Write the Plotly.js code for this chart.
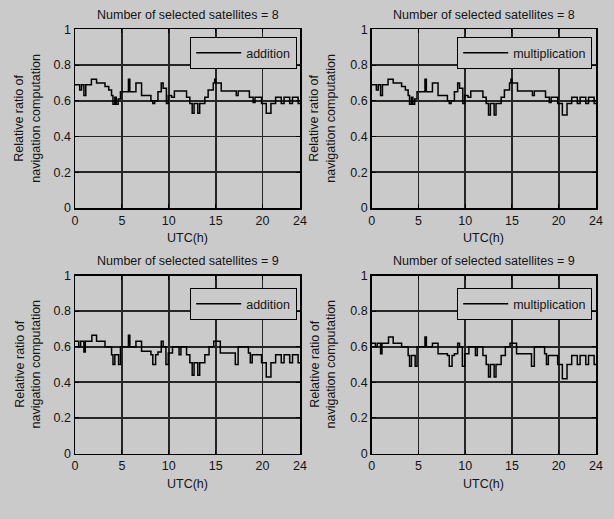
<!DOCTYPE html>
<html>
<head>
<meta charset="utf-8">
<script src="https://cdn.plot.ly/plotly-3.0.1.min.js"></script>
<style>
html,body{margin:0;padding:0;background:#cacaca;}
#chart{width:614px;height:519px;}
</style>
</head>
<body>
<div id="chart"></div>
<script>
// ---- data (UTC hour where a step starts, and its value) ----
var t8Add = [0,0.5,0.7,0.95,1.15,1.75,2.3,3.2,3.6,3.9,4.05,4.25,4.4,4.6,4.85,5.7,5.85,6.5,7.1,8.1,8.3,8.5,8.85,9.2,9.4,9.75,9.95,10.3,10.6,11.9,12.25,12.5,12.7,13.1,13.3,13.85,14.2,14.75,14.9,15.0,15.6,17.2,17.4,18.6,19.0,19.2,19.9,20.4,20.9,21.4,22.0,22.3,22.9,23.2,23.8,24];
var v8Add = [0.69,0.66,0.69,0.63,0.69,0.72,0.70,0.68,0.66,0.63,0.58,0.62,0.58,0.61,0.65,0.72,0.65,0.70,0.63,0.60,0.585,0.60,0.65,0.70,0.67,0.585,0.63,0.62,0.655,0.62,0.585,0.53,0.585,0.53,0.585,0.62,0.66,0.70,0.72,0.70,0.655,0.63,0.655,0.62,0.59,0.62,0.585,0.53,0.585,0.62,0.585,0.62,0.585,0.62,0.585,0.585];

var t8Mul = [0,0.5,0.7,0.95,1.15,1.75,2.3,3.2,3.6,3.9,4.05,4.25,4.4,4.6,4.85,5.7,5.85,6.5,7.1,8.1,8.3,8.5,8.85,9.2,9.4,9.75,9.95,10.3,10.6,11.9,12.25,12.5,12.7,13.1,13.3,13.85,14.2,14.75,14.9,15.0,15.6,17.2,17.4,18.6,19.0,19.2,19.9,20.4,20.9,21.4,22.0,22.3,22.9,23.2,23.8,24];
var v8Mul = [0.69,0.66,0.69,0.63,0.69,0.72,0.70,0.68,0.66,0.63,0.58,0.62,0.58,0.61,0.65,0.72,0.65,0.70,0.63,0.60,0.585,0.60,0.65,0.70,0.67,0.585,0.63,0.62,0.655,0.62,0.585,0.52,0.585,0.52,0.585,0.62,0.66,0.70,0.72,0.70,0.655,0.63,0.655,0.62,0.59,0.62,0.585,0.52,0.585,0.62,0.585,0.62,0.585,0.62,0.585,0.585];

var t9Add = [0,0.4,0.6,0.95,1.1,1.8,2.3,3.2,3.9,4.05,4.25,4.5,4.65,4.85,5.7,5.85,6.5,7.1,8.1,8.3,8.6,8.85,9.2,9.4,9.7,9.95,10.4,11.1,11.3,11.9,12.25,12.5,12.7,13.1,13.3,13.85,14.3,14.8,15.5,17.1,17.4,18.5,18.7,18.9,19.9,20.4,20.9,21.4,22.0,22.3,22.9,23.2,23.8,24];
var v9Add = [0.63,0.60,0.63,0.57,0.63,0.665,0.63,0.60,0.555,0.50,0.555,0.555,0.50,0.60,0.665,0.60,0.63,0.575,0.555,0.50,0.555,0.57,0.63,0.60,0.50,0.565,0.60,0.555,0.60,0.555,0.51,0.44,0.51,0.44,0.51,0.555,0.60,0.63,0.565,0.50,0.60,0.565,0.51,0.555,0.51,0.43,0.51,0.555,0.51,0.555,0.51,0.555,0.51,0.51];

var t9Mul = [0,0.4,0.6,0.95,1.1,1.8,2.3,3.2,3.9,4.05,4.25,4.5,4.65,4.85,5.7,5.85,6.5,7.1,8.1,8.3,8.6,8.85,9.2,9.4,9.7,9.95,10.4,11.1,11.3,11.9,12.25,12.5,12.7,13.1,13.3,13.85,14.3,14.8,15.5,17.1,17.4,18.5,18.7,18.9,19.9,20.4,20.9,21.4,22.0,22.3,22.9,23.2,23.8,24];
var v9Mul = [0.62,0.60,0.62,0.56,0.62,0.655,0.62,0.60,0.55,0.49,0.55,0.55,0.49,0.60,0.655,0.60,0.62,0.56,0.55,0.49,0.55,0.56,0.62,0.60,0.49,0.56,0.60,0.55,0.60,0.55,0.50,0.43,0.50,0.43,0.50,0.55,0.60,0.62,0.56,0.49,0.60,0.56,0.50,0.55,0.50,0.42,0.50,0.55,0.50,0.55,0.50,0.55,0.50,0.50];

var xTicks = [0,5,10,15,20,24];
var yTicks = [0,0.2,0.4,0.6,0.8,1];
var yTickText = ['0','0.2','0.4','0.6','0.8','1'];
var titles = ['Number of selected satellites = 8','Number of selected satellites = 8','Number of selected satellites = 9','Number of selected satellites = 9'];
var names = ['addition','multiplication','addition','multiplication'];

var FONT = 'Liberation Sans, Arial, sans-serif';
var BG = '#cacaca';
var INK = '#151515';

function tr(x, y, name, n) {
  return {
    x: x, y: y, name: name, type: 'scatter', mode: 'lines',
    line: {shape: 'hv', color: '#000', width: 1.5},
    xaxis: n === 1 ? 'x' : 'x' + n,
    yaxis: n === 1 ? 'y' : 'y' + n,
    legend: n === 1 ? 'legend' : 'legend' + n,
    showlegend: true
  };
}

var data = [
  tr(t8Add, v8Add, names[0], 1),
  tr(t8Mul, v8Mul, names[1], 2),
  tr(t9Add, v9Add, names[2], 3),
  tr(t9Mul, v9Mul, names[3], 4)
];

var xd = [[75/614, 300/614],[371.7/614, 596/614]];
var yd = [[1-208/519, 1-29.3/519],[1-453.5/519, 1-275.5/519]];

function xa(dom, anchor) {
  return {
    domain: dom, anchor: anchor, range: [0,24], tickvals: xTicks,
    ticks: 'inside', ticklen: 4, tickcolor: '#000',
    showgrid: true, gridcolor: '#262626', gridwidth: 1.8,
    showline: true, linecolor: '#000', linewidth: 1.5, mirror: 'ticks',
    zeroline: false, tickfont: {family: FONT, size: 12.5, color: INK}, fixedrange: true
  };
}
function ya(dom, anchor) {
  return {
    domain: dom, anchor: anchor, range: [0,1], tickvals: yTicks, ticktext: yTickText,
    ticks: 'inside', ticklen: 4, tickcolor: '#000',
    showgrid: true, gridcolor: '#262626', gridwidth: 1.8,
    showline: true, linecolor: '#000', linewidth: 1.5, mirror: 'ticks',
    zeroline: false, tickfont: {family: FONT, size: 12.5, color: INK}, fixedrange: true
  };
}
function lg(xr, yt) {
  return {
    x: xr, y: yt, xanchor: 'right', yanchor: 'top', xref: 'paper', yref: 'paper',
    bgcolor: BG, bordercolor: '#000', borderwidth: 1.2, itemwidth: 45,
    font: {family: FONT, size: 12.5, color: INK}
  };
}

var ann = [];
var cx = [(xd[0][0]+xd[0][1])/2, (xd[1][0]+xd[1][1])/2];
var titleY = [1-15/519, 1-261/519];
var xtY = [1-238/519, 1-484/519];
var ytX = [27/614, 322/614];
var ytY = [(yd[0][0]+yd[0][1])/2, (yd[1][0]+yd[1][1])/2];
for (var r = 0; r < 2; r++) {
  for (var c = 0; c < 2; c++) {
    ann.push({text: titles[r*2+c], x: cx[c], y: titleY[r], xref: 'paper', yref: 'paper',
      xanchor: 'center', yanchor: 'middle', showarrow: false,
      font: {family: FONT, size: 12.5, color: INK}});
    ann.push({text: 'UTC(h)', x: cx[c], y: xtY[r], xref: 'paper', yref: 'paper',
      xanchor: 'center', yanchor: 'middle', showarrow: false,
      font: {family: FONT, size: 12.5, color: INK}});
    ann.push({text: 'Relative ratio of<br>navigation computation', x: ytX[c], y: ytY[r],
      xref: 'paper', yref: 'paper', xanchor: 'center', yanchor: 'middle', textangle: -90,
      showarrow: false, font: {family: FONT, size: 12.5, color: INK}});
  }
}

var layout = {
  width: 614, height: 519,
  margin: {l: 0, r: 0, t: 0, b: 0},
  paper_bgcolor: BG, plot_bgcolor: BG,
  xaxis: xa(xd[0], 'y'), yaxis: ya(yd[0], 'x'),
  xaxis2: xa(xd[1], 'y2'), yaxis2: ya(yd[0], 'x2'),
  xaxis3: xa(xd[0], 'y3'), yaxis3: ya(yd[1], 'x3'),
  xaxis4: xa(xd[1], 'y4'), yaxis4: ya(yd[1], 'x4'),
  legend: lg(297/614, 1-37/519),
  legend2: lg(592/614, 1-37/519),
  legend3: lg(297/614, 1-288/519),
  legend4: lg(592/614, 1-288/519),
  annotations: ann
};

Plotly.newPlot('chart', data, layout, {displayModeBar: false, staticPlot: true});
</script>
</body>
</html>
